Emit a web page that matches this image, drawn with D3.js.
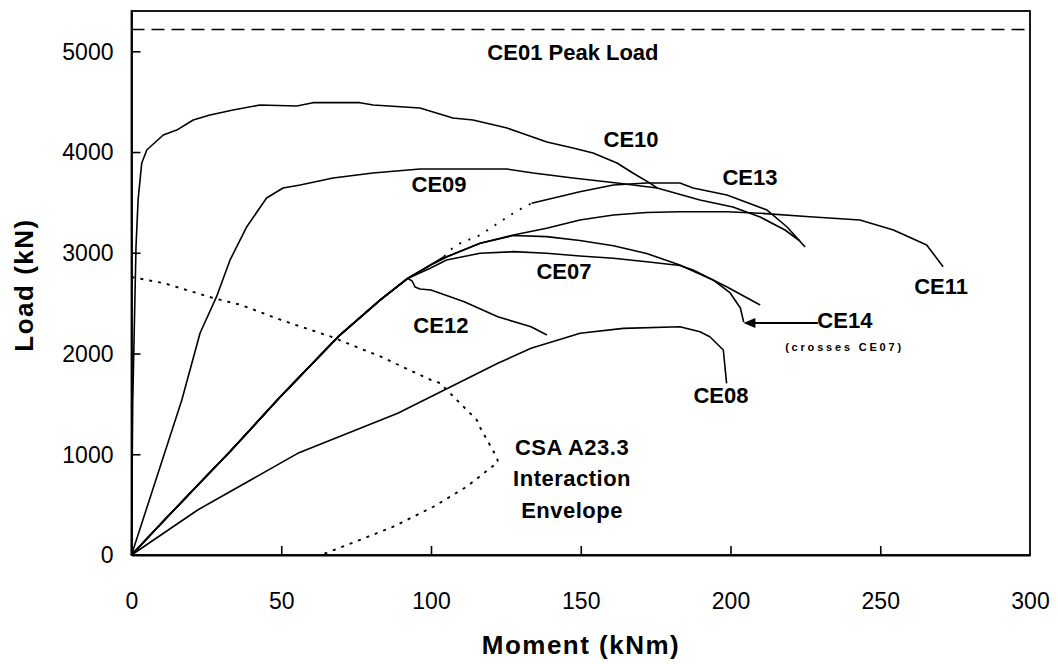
<!DOCTYPE html>
<html><head><meta charset="utf-8">
<script src="https://cdn.jsdelivr.net/npm/d3@7/dist/d3.min.js"></script>
<style>
body{margin:0;background:#fff}
svg{display:block}
text{font-family:"Liberation Sans",Arial,Helvetica,sans-serif;fill:#000}
</style>
</head><body>
<svg id="chart" width="1058" height="664"></svg>
<script>
// ---- tick labels ----
const xTicks = [0, 50, 100, 150, 200, 250, 300];
const yTicks = [0, 1000, 2000, 3000, 4000, 5000];
const xTitle = "Moment (kNm)";
const yTitle = "Load (kN)";

// ---- series: [moment kNm, load kN] ----
const peakLoadCE01 = 5216;

const ce10 = [[0,0],[0.4,1500],[1.5,3057],[2.2,3524],[3.4,3888],[5.1,4020],[10.6,4169],[15.1,4218],
  [20.6,4318],[26.2,4367],[33.9,4417],[42.9,4467],[55.2,4457],[60.6,4490],[76.3,4490],[80.7,4467],
  [96.3,4437],[107.3,4338],[114,4318],[125.4,4238],[138.7,4099],[147.4,4040],[154.1,3990],
  [162.1,3891],[167.4,3792],[173.1,3692],[175.5,3643]];

const ce09 = [[0,0],[16.8,1539],[22.9,2204],[28.4,2564],[32.9,2928],[38.5,3259],[45.1,3544],
  [50.6,3643],[56.3,3673],[67.3,3742],[80.6,3792],[96.3,3831],[125.4,3831],[134.1,3792],
  [147.4,3742],[162.1,3692],[175.5,3643],[189.8,3524],[200.8,3454],[209.9,3355],[218.2,3226],[223.2,3117]];

const ce11 = [[0,0],[11,347],[22,690],[33,1030],[50,1580],[69,2167],[83,2531],[92.2,2746],
  [100,2880],[105.2,2961],[116.4,3094],[127.5,3176],[138.6,3243],[149.7,3325],[160.9,3375],
  [172,3400],[183.1,3408],[198.7,3408],[209.9,3392],[226.5,3358],[243.2,3325],[248.8,3276],
  [254.4,3226],[265.5,3077],[271,2862]];

const ce14 = [[0,0],[11,347],[22,690],[33,1030],[50,1580],[69,2167],[83,2531],[92.2,2746],
  [100,2880],[105.2,2958],[116.4,3094],[127.5,3171],[138.6,3160],[149.7,3122],[160.9,3069],
  [172,2993],[183.1,2879],[185.4,2846],[194.2,2730],[199.9,2601],[203.3,2452],[204.4,2313]];

const ce07 = [[0,0],[11,345],[22,688],[33,1028],[50,1578],[69,2165],[83,2529],[92.2,2744],
  [99.7,2846],[105.2,2928],[116.4,2995],[127.5,3011],[138.6,2995],[149.7,2968],[160.9,2945],
  [172,2911],[183.1,2874],[187.5,2829],[198.7,2663],[209.9,2482]];

const ce12 = [[0,0],[11,349],[22,692],[33,1032],[50,1582],[69,2169],[83,2533],[92.2,2746],
  [93.7,2720],[94.7,2660],[96.3,2640],[100,2630],[111.1,2514],[122.3,2365],[133.4,2266],[138.7,2184]];

const ce13Start = [[0,0],[11,347],[22,690],[33,1030],[50,1580],[69,2167],[83,2531],[92.2,2746],[104.4,2961]];
const ce13Gap = [[104.4,2961],[106.3,3027],[109.7,3093],[116.4,3176],[124,3325],[127.5,3393],[130.8,3449],[133.6,3491]];
const ce13End = [[133.6,3491],[149.7,3606],[160.9,3673],[172,3692],[183.1,3692],[187.5,3643],
  [198.8,3573],[212.2,3424],[218.9,3256],[224.9,3057]];

const ce08 = [[0,0],[22.1,447],[55.5,1009],[88.9,1407],[105.6,1655],[122.3,1903],[133.4,2052],
  [149.8,2201],[164.2,2250],[183.1,2266],[189.8,2216],[193.1,2167],[197.6,2035],[198.7,1704]];

const envelope = [[0,2759],[11,2697],[27.6,2548],[36.6,2482],[49.9,2333],[66.6,2167],[83.3,1968],
  [100,1737],[103,1707],[108.6,1539],[115.3,1340],[116.3,1271],[121.9,973],[122.4,923],
  [111.9,678],[100.8,479],[87.4,281],[71.9,99],[63.3,0]];

// ---- annotation anchors (data units) ----
const labels = [
  {t:"CE01 Peak Load", x:147.4, y:4915, a:"middle"},
  {t:"CE10", x:166.8, y:4050, a:"middle"},
  {t:"CE09", x:102.7, y:3603, a:"middle"},
  {t:"CE13", x:206.5, y:3673, a:"middle"},
  {t:"CE07", x:144.4, y:2740, a:"middle"},
  {t:"CE12", x:103.3, y:2204, a:"middle"},
  {t:"CE11", x:270.3, y:2590, a:"middle"},
  {t:"CE14", x:229.0, y:2253, a:"start"},
  {t:"CE08", x:196.8, y:1509, a:"middle"}
];
const envLabel = ["CSA A23.3", "Interaction", "Envelope"];
const envLabelPos = {x:147.1, y:[993, 685, 367]};
const crossNote = {t:"(crosses CE07)", x:237.6, y:2025};
const arrow = {x1:229.2, x2:204.3, y:2303};

// ---- drawing ----
const svg = d3.select("#chart");
const x = d3.scaleLinear().domain([0,300]).range([131.5,1030]);
const y = d3.scaleLinear().domain([0,5400]).range([555,11]);

const line = d3.line().x(d=>x(d[0])).y(d=>y(d[1]));

// frame
svg.append("rect").attr("x",x(0)).attr("y",y(5400))
  .attr("width",x(300)-x(0)).attr("height",y(0)-y(5400))
  .attr("fill","none").attr("stroke","#000").attr("stroke-width",1.8);

// axes with inward ticks
const gx = svg.append("g").attr("transform",`translate(0,${y(0)})`)
  .call(d3.axisBottom(x).tickValues(xTicks).tickFormat(d3.format("d")).tickSizeInner(-9).tickSizeOuter(0).tickPadding(38));
const gy = svg.append("g").attr("transform",`translate(${x(0)},0)`)
  .call(d3.axisLeft(y).tickValues(yTicks).tickFormat(d3.format("d")).tickSizeInner(-9).tickSizeOuter(0).tickPadding(18));
[gx,gy].forEach(g=>{
  g.select(".domain").attr("stroke","#000").attr("stroke-width",1.8);
  g.selectAll(".tick line").attr("stroke","#000").attr("stroke-width",1.6);
  g.selectAll(".tick text").attr("font-size",23).attr("font-family","Liberation Sans, Arial, sans-serif").attr("fill","#000");
});
gx.selectAll(".tick text").attr("dy","0.71em");
gy.selectAll(".tick text").attr("dy","0.34em");
gx.selectAll(".tick").filter(d=>d===0||d===300).select("line").remove();
gy.selectAll(".tick").filter(d=>d===0).select("line").remove();

// titles
svg.append("text").attr("x",581).attr("y",654).attr("text-anchor","middle")
  .attr("font-size",26).attr("font-weight","bold").attr("letter-spacing","1.5px").text(xTitle);
svg.append("text").attr("transform","translate(33,285) rotate(-90)").attr("text-anchor","middle")
  .attr("font-size",26).attr("font-weight","bold").attr("letter-spacing","1.5px").text(yTitle);

// peak load dashed line
svg.append("line").attr("x1",x(0)).attr("x2",x(300)).attr("y1",y(peakLoadCE01)).attr("y2",y(peakLoadCE01))
  .attr("stroke","#000").attr("stroke-width",1.6).attr("stroke-dasharray","13,7");

// envelope dotted
svg.append("path").attr("d",line(envelope)).attr("fill","none").attr("stroke","#000")
  .attr("stroke-width",1.9).attr("stroke-dasharray","3,6");

// CE13 dotted gap
svg.append("path").attr("d",line(ce13Gap)).attr("fill","none").attr("stroke","#000")
  .attr("stroke-width",1.9).attr("stroke-dasharray","2,8");

// solid curves
[ce08, ce09, ce10, ce11, ce14, ce07, ce12, ce13Start, ce13End].forEach(s=>{
  svg.append("path").attr("d",line(s)).attr("fill","none").attr("stroke","#000")
    .attr("stroke-width",1.6).attr("stroke-linejoin","round");
});

// labels
labels.forEach(l=>{
  svg.append("text").attr("x",x(l.x)).attr("y",y(l.y)).attr("text-anchor",l.a)
    .attr("font-size",22).attr("font-weight","bold").text(l.t);
});
envLabel.forEach((t,i)=>{
  svg.append("text").attr("x",x(envLabelPos.x)).attr("y",y(envLabelPos.y[i])).attr("text-anchor","middle")
    .attr("font-size",22).attr("font-weight","bold").attr("letter-spacing","0.5px").text(t);
});
svg.append("text").attr("x",x(crossNote.x)+1.4).attr("y",y(crossNote.y)).attr("text-anchor","middle")
  .attr("font-size",11).attr("font-weight","bold").attr("letter-spacing","2.8px").text(crossNote.t);

// arrow
const ax1 = x(arrow.x1), ax2 = x(arrow.x2), ay = y(arrow.y);
svg.append("line").attr("x1",ax1).attr("x2",ax2+8).attr("y1",ay).attr("y2",ay)
  .attr("stroke","#000").attr("stroke-width",2);
svg.append("path").attr("d",`M${ax2},${ay} L${ax2+12},${ay-5} L${ax2+12},${ay+5} Z`).attr("fill","#000");
</script>
</body></html>
